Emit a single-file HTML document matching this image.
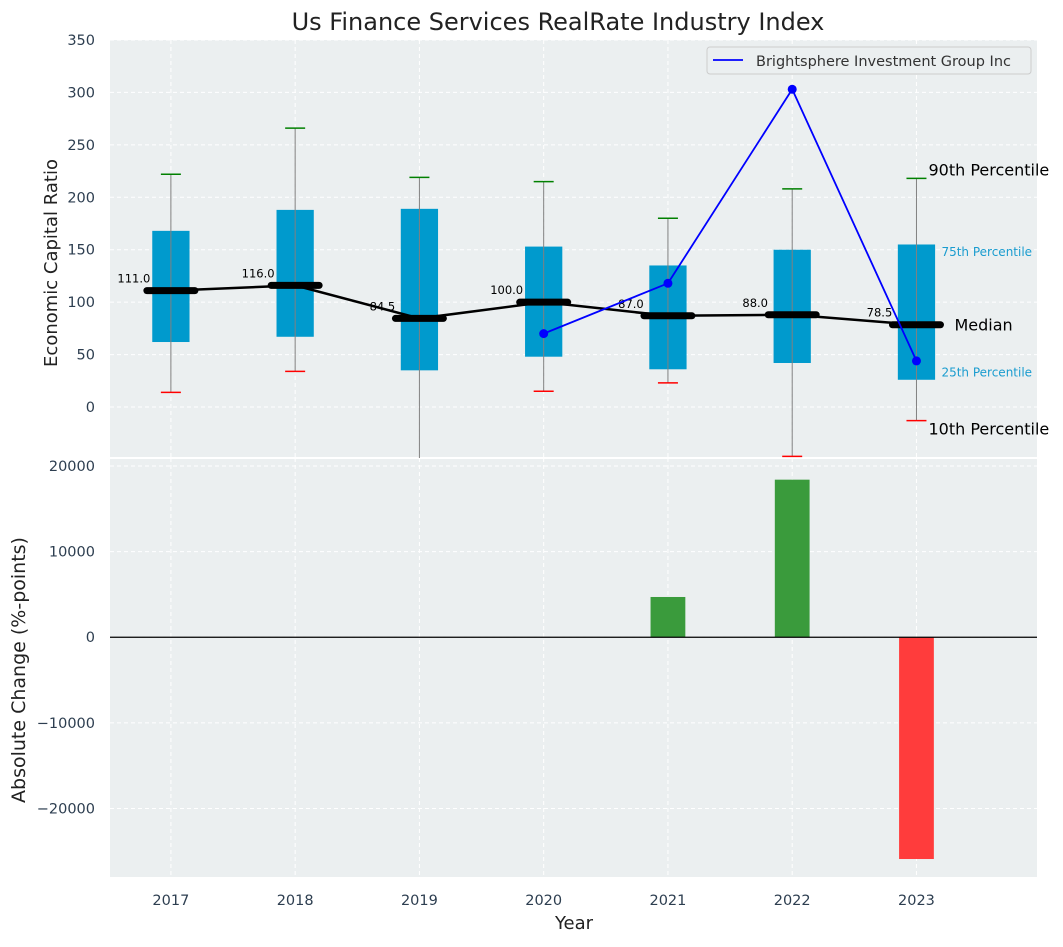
<!DOCTYPE html>
<html><head><meta charset="utf-8"><style>
body{margin:0;background:#fff;font-family:"Liberation Sans","DejaVu Sans",sans-serif}
svg text{font-family:"DejaVu Sans","Liberation Sans",sans-serif}
</style></head><body>
<svg id="c" width="1063" height="942" xmlns="http://www.w3.org/2000/svg"></svg>
<script>
const years=[2017,2018,2019,2020,2021,2022,2023];
const p10=[14,34,-60,15,23,-47,-13];
const q1=[62,67,35,48,36,42,26];
const medians=[111,116,84.5,100,87,88,78.5];
const q3=[168,188,189,153,135,150,155];
const p90=[222,266,219,215,180,208,218];
const companyYears=[2020,2021,2022,2023];
const companyVals=[70,118,303,44];
const changeYears=[2021,2022,2023];
const changeVals=[4700,18400,-25900];
const topTicks=[0,50,100,150,200,250,300,350];
const botTicks=[-20000,-10000,0,10000,20000];

const svg=document.getElementById('c');
const NS='http://www.w3.org/2000/svg';
function mk(tag,attrs,name,parent){const e=document.createElementNS(NS,tag);for(const k in attrs)e.setAttribute(k,attrs[k]);


(parent||svg).appendChild(e);return e;}
function txt(x,y,s,attrs,name){const t=mk('text',Object.assign({x:x,y:y},attrs),name);t.textContent=s;return t;}
const L=110,R=1037,T1=40,B1=458,T2=458,B2=877;
const X=v=>L+(v-2016.51)/(2023.97-2016.51)*(R-L);
const Y1=v=>T1+(350-v)/(350+48.6)*(B1-T1);
const Y2=v=>T2+(20930-v)/(20930+28000)*(B2-T2);
mk('rect',{x:L,y:T1,width:R-L,height:B1-T1,fill:'#ebeff0'},'top-plot-area');
mk('rect',{x:L,y:T2+1,width:R-L,height:B2-T2-1,fill:'#ebeff0'},'bottom-plot-area');
mk('line',{x1:L,x2:R,y1:458,y2:458,stroke:'#fff','stroke-width':2},'axes-separator');
years.forEach(y=>{
 mk('line',{x1:X(y),x2:X(y),y1:T1,y2:B1,stroke:'#fff','stroke-dasharray':'4,3'},'top-x-grid');
 mk('line',{x1:X(y),x2:X(y),y1:T2,y2:B2,stroke:'#fff','stroke-dasharray':'4,3'},'bottom-x-grid');
 txt(X(y),905,String(y),{'font-size':14.5,fill:'#2d3e50','text-anchor':'middle'},'x-tick-label');
});
topTicks.forEach(t=>{
 mk('line',{x1:L,x2:R,y1:Y1(t),y2:Y1(t),stroke:'#fff','stroke-dasharray':'4,3'},'top-y-grid');
 txt(95,Y1(t)+5,String(t),{'font-size':14.5,fill:'#2d3e50','text-anchor':'end'},'top-y-tick-label');
});
botTicks.forEach(t=>{
 mk('line',{x1:L,x2:R,y1:Y2(t),y2:Y2(t),stroke:'#fff','stroke-dasharray':'4,3'},'bottom-y-grid');
 txt(95,Y2(t)+5,(t<0?'\u2212':'')+Math.abs(t),{'font-size':14.5,fill:'#2d3e50','text-anchor':'end'},'bottom-y-tick-label');
});
const bw=124.2*0.3;
years.forEach((y,i)=>{
 const x=X(y);
 mk('rect',{x:x-bw/2,y:Y1(q3[i]),width:bw,height:Y1(q1[i])-Y1(q3[i]),fill:'#009acd'},'iqr-box');
 mk('line',{x1:x,x2:x,y1:Y1(p90[i]),y2:Math.min(B1,Y1(p10[i])),stroke:'#808080','stroke-width':1},'whisker');
 mk('line',{x1:x-10,x2:x+10,y1:Y1(p90[i]),y2:Y1(p90[i]),stroke:'green','stroke-width':1.5},'p90-cap');
 if(Y1(p10[i])<=B1) mk('line',{x1:x-10,x2:x+10,y1:Y1(p10[i]),y2:Y1(p10[i]),stroke:'red','stroke-width':1.5},'p10-cap');
});
let d='';years.forEach((y,i)=>{d+=(i?'L':'M')+X(y)+','+Y1(medians[i]);});
mk('path',{d:d,fill:'none',stroke:'#000','stroke-width':2.5},'median-line');
years.forEach((y,i)=>{const x=X(y);
 mk('line',{x1:x-24,x2:x+24,y1:Y1(medians[i]),y2:Y1(medians[i]),stroke:'#000','stroke-width':7,'stroke-linecap':'round'},'median-marker');
 txt(x-37,Y1(medians[i])-8,medians[i].toFixed(1),{'font-size':11.5,fill:'#000','text-anchor':'middle'},'median-value-label');
});
let d2='';companyYears.forEach((y,i)=>{d2+=(i?'L':'M')+X(y)+','+Y1(companyVals[i]);});
mk('path',{d:d2,fill:'none',stroke:'blue','stroke-width':1.8},'company-line');
companyYears.forEach((y,i)=>mk('circle',{cx:X(y),cy:Y1(companyVals[i]),r:4.5,fill:'blue'},'company-point'));
const xl=X(2023);
txt(xl+12,Y1(218)-3,'90th Percentile',{'font-size':16,fill:'#000'},'p90-annotation');
txt(xl+25,Y1(148)+4,'75th Percentile',{'font-size':12,fill:'#1a9ccf'},'p75-annotation');
txt(xl+38,Y1(78.5)+6,'Median',{'font-size':16,fill:'#000'},'median-annotation');
txt(xl+25,Y1(33)+4,'25th Percentile',{'font-size':12,fill:'#1a9ccf'},'p25-annotation');
txt(xl+12,Y1(-13)+14,'10th Percentile',{'font-size':16,fill:'#000'},'p10-annotation');
mk('rect',{x:707,y:47,width:324,height:27,fill:'#ebeff0',stroke:'#ccc',rx:3},'legend-box');
mk('line',{x1:713,x2:743,y1:60,y2:60,stroke:'blue','stroke-width':1.8},'legend-line');
txt(756,66,'Brightsphere Investment Group Inc',{'font-size':14.5,fill:'#333'},'legend-label');
const bbw=124.2*0.28;
changeYears.forEach((y,i)=>{const v=changeVals[i];
 mk('rect',{x:X(y)-bbw/2,y:Math.min(Y2(v),Y2(0)),width:bbw,height:Math.abs(Y2(v)-Y2(0)),fill:v>=0?'#3a9b3c':'#ff3c3c'},'change-bar');
});
mk('line',{x1:L,x2:R,y1:Y2(0),y2:Y2(0),stroke:'#000','stroke-width':1.2},'zero-line');
txt(558,30,'Us Finance Services RealRate Industry Index',{'font-size':24,fill:'#222','text-anchor':'middle'},'chart-title');
txt(574,929,'Year',{'font-size':18,fill:'#222','text-anchor':'middle'},'x-axis-title');
txt(57,263,'Economic Capital Ratio',{'font-size':18,fill:'#222','text-anchor':'middle',transform:'rotate(-90 57 263)'},'top-y-axis-title');
txt(25,670,'Absolute Change (%-points)',{'font-size':19,fill:'#222','text-anchor':'middle',transform:'rotate(-90 25 670)'},'bottom-y-axis-title');
</script>
</body></html>
